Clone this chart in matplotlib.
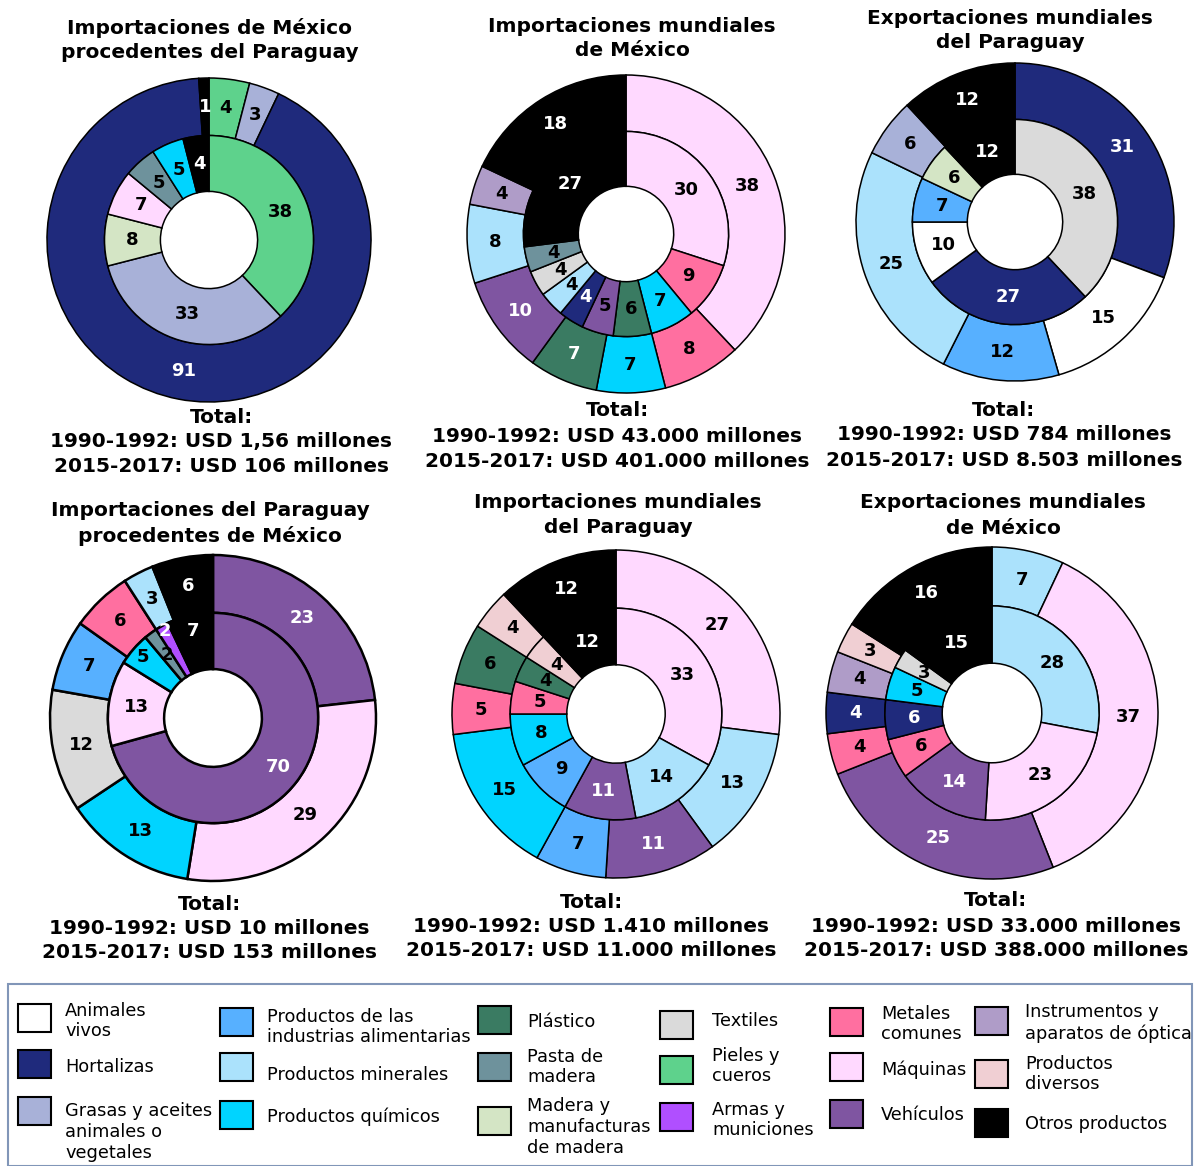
import matplotlib
matplotlib.use("Agg")
import matplotlib.pyplot as plt
from matplotlib.patches import Rectangle
import numpy as np

W, H, DPI = 1195, 1166, 100
plt.rcParams['font.family'] = ['DejaVu Sans']

# ---------------- data ----------------
categories = ["Animales", "Hortalizas", "Grasas", "Alimentarias", "Minerales", "Químicos",
              "Plástico", "Pasta", "Madera", "Textiles", "Pieles", "Armas", "Metales",
              "Máquinas", "Vehículos", "Instrumentos", "Diversos", "Otros"]
legend_labels = ["Animales\nvivos", "Hortalizas", "Grasas y aceites\nanimales o\nvegetales",
                 "Productos de las\nindustrias alimentarias", "Productos minerales",
                 "Productos químicos", "Plástico", "Pasta de\nmadera",
                 "Madera y\nmanufacturas\nde madera", "Textiles", "Pieles y\ncueros",
                 "Armas y\nmuniciones", "Metales\ncomunes", "Máquinas", "Vehículos",
                 "Instrumentos y\naparatos de óptica", "Productos\ndiversos", "Otros productos"]

c1_title = ["Importaciones de México", "procedentes del Paraguay"]
c1_inner_cats = ["Pieles", "Grasas", "Madera", "Máquinas", "Pasta", "Químicos", "Otros"]
c1_inner_vals = [38, 33, 8, 7, 5, 5, 4]
c1_outer_cats = ["Pieles", "Grasas", "Hortalizas", "Otros"]
c1_outer_vals = [4, 3, 91, 1]
c1_totals = ["Total:", "1990-1992: USD 1,56 millones", "2015-2017: USD 106 millones"]

c2_title = ["Importaciones mundiales", "de México"]
c2_inner_cats = ["Máquinas", "Metales", "Químicos", "Plástico", "Vehículos", "Hortalizas",
                 "Minerales", "Textiles", "Pasta", "Otros"]
c2_inner_vals = [30, 9, 7, 6, 5, 4, 4, 4, 4, 27]
c2_outer_cats = ["Máquinas", "Metales", "Químicos", "Plástico", "Vehículos", "Minerales",
                 "Instrumentos", "Otros"]
c2_outer_vals = [38, 8, 7, 7, 10, 8, 4, 18]
c2_totals = ["Total:", "1990-1992: USD 43.000 millones", "2015-2017: USD 401.000 millones"]

c3_title = ["Exportaciones mundiales", "del Paraguay"]
c3_inner_cats = ["Textiles", "Hortalizas", "Animales", "Alimentarias", "Madera", "Otros"]
c3_inner_vals = [38, 27, 10, 7, 6, 12]
c3_outer_cats = ["Hortalizas", "Animales", "Alimentarias", "Minerales", "Grasas", "Otros"]
c3_outer_vals = [31, 15, 12, 25, 6, 12]
c3_totals = ["Total:", "1990-1992: USD 784 millones", "2015-2017: USD 8.503 millones"]

c4_title = ["Importaciones del Paraguay", "procedentes de México"]
c4_inner_cats = ["Vehículos", "Máquinas", "Químicos", "Pasta", "Armas", "Otros"]
c4_inner_vals = [70, 13, 5, 2, 2, 7]
c4_outer_cats = ["Vehículos", "Máquinas", "Químicos", "Textiles", "Alimentarias", "Metales",
                 "Minerales", "Otros"]
c4_outer_vals = [23, 29, 13, 12, 7, 6, 3, 6]
c4_totals = ["Total:", "1990-1992: USD 10 millones", "2015-2017: USD 153 millones"]

c5_title = ["Importaciones mundiales", "del Paraguay"]
c5_inner_cats = ["Máquinas", "Minerales", "Vehículos", "Alimentarias", "Químicos", "Metales",
                 "Plástico", "Diversos", "Otros"]
c5_inner_vals = [33, 14, 11, 9, 8, 5, 4, 4, 12]
c5_outer_cats = ["Máquinas", "Minerales", "Vehículos", "Alimentarias", "Químicos", "Metales",
                 "Plástico", "Diversos", "Otros"]
c5_outer_vals = [27, 13, 11, 7, 15, 5, 6, 4, 12]
c5_totals = ["Total:", "1990-1992: USD 1.410 millones", "2015-2017: USD 11.000 millones"]

c6_title = ["Exportaciones mundiales", "de México"]
c6_inner_cats = ["Minerales", "Máquinas", "Vehículos", "Metales", "Hortalizas", "Químicos",
                 "Textiles", "Otros"]
c6_inner_vals = [28, 23, 14, 6, 6, 5, 3, 15]
c6_outer_cats = ["Minerales", "Máquinas", "Vehículos", "Metales", "Hortalizas", "Instrumentos",
                 "Diversos", "Otros"]
c6_outer_vals = [7, 37, 25, 4, 4, 4, 3, 16]
c6_totals = ["Total:", "1990-1992: USD 33.000 millones", "2015-2017: USD 388.000 millones"]

# ---------------- style ----------------
colors = {
    "Animales": "#FFFFFF", "Hortalizas": "#1F2A7C", "Grasas": "#A8B1D8",
    "Alimentarias": "#57B0FF", "Minerales": "#ABE2FC", "Químicos": "#00D4FF",
    "Plástico": "#3A7B62", "Pasta": "#6E929C", "Madera": "#D4E5C5", "Textiles": "#DADADA",
    "Pieles": "#5ED28C", "Armas": "#B04FFF", "Metales": "#FF6FA0", "Máquinas": "#FFD9FF",
    "Vehículos": "#7F55A1", "Instrumentos": "#AF9CC8", "Diversos": "#F0CFD3", "Otros": "#000000",
}
white_text = {"Hortalizas", "Vehículos", "Otros", "Armas"}

charts = [
    dict(title=c1_title, ic=c1_inner_cats, iv=c1_inner_vals, oc=c1_outer_cats, ov=c1_outer_vals,
         totals=c1_totals, center=(209, 240), R=162, tx=210, tys=(28, 53), sx=221,
         sys=(418, 441, 466), lw=1.1, over={}, rad={}),
    dict(title=c2_title, ic=c2_inner_cats, iv=c2_inner_vals, oc=c2_outer_cats, ov=c2_outer_vals,
         totals=c2_totals, center=(626, 234), R=159, tx=632, tys=(27, 51), sx=617,
         sys=(411, 436, 461), lw=1.1,
         over={("i", "Vehículos"): "black", ("o", "Plástico"): "white"}, rad={}),
    dict(title=c3_title, ic=c3_inner_cats, iv=c3_inner_vals, oc=c3_outer_cats, ov=c3_outer_vals,
         totals=c3_totals, center=(1015, 222), R=159, tx=1010, tys=(19, 43), sx=1004,
         sys=(410, 435, 460), lw=1.1, over={}, rad={}),
    dict(title=c4_title, ic=c4_inner_cats, iv=c4_inner_vals, oc=c4_outer_cats, ov=c4_outer_vals,
         totals=c4_totals, center=(213, 718), R=163, tx=210, tys=(511, 536), sx=209,
         sys=(905, 928, 953), lw=1.8, over={},
         rad={("i", "Químicos"): 0.57, ("i", "Pasta"): 0.48, ("i", "Armas"): 0.61,
              ("i", "Otros"): 0.55, ("i", "Vehículos"): 0.50}),
    dict(title=c5_title, ic=c5_inner_cats, iv=c5_inner_vals, oc=c5_outer_cats, ov=c5_outer_vals,
         totals=c5_totals, center=(616, 714), R=164, tx=618, tys=(502, 527), sx=591,
         sys=(902, 927, 951), lw=1.1, over={}, rad={}),
    dict(title=c6_title, ic=c6_inner_cats, iv=c6_inner_vals, oc=c6_outer_cats, ov=c6_outer_vals,
         totals=c6_totals, center=(992, 713), R=166, tx=1003, tys=(503, 528), sx=996,
         sys=(901, 926, 950), lw=1.1, over={}, rad={}),
]

HOLE = 0.30
INNER_R = 0.645
FS_LAB = 13
FS_TXT = 14.5

fig = plt.figure(figsize=(W / DPI, H / DPI), dpi=DPI)


def fx(x):
    return x / W


def fy(y):
    return 1 - y / H


pad = 1.03
for ch in charts:
    cx, cy = ch["center"]
    R = ch["R"] * pad
    ax = fig.add_axes([fx(cx - R), fy(cy + R), 2 * R / W, 2 * R / H])
    for ring, cats, vals, radius, wid in (("o", ch["oc"], ch["ov"], 1.0, 1.0 - INNER_R),
                                          ("i", ch["ic"], ch["iv"], INNER_R, INNER_R - HOLE)):
        wedges, _ = ax.pie(vals, colors=[colors[c] for c in cats], startangle=90,
                           counterclock=False, radius=radius,
                           wedgeprops=dict(width=wid, edgecolor="black", linewidth=ch["lw"]))
        for w, v, c in zip(wedges, vals, cats):
            th = np.deg2rad((w.theta1 + w.theta2) / 2)
            r = ch["rad"].get((ring, c), w.r - w.width / 2)
            col = "white" if c in white_text else "black"
            col = ch["over"].get((ring, c), col)
            ax.text(r * np.cos(th), r * np.sin(th), str(v), ha="center", va="center",
                    fontsize=FS_LAB, fontweight="bold", color=col)
    ax.set_xlim(-pad, pad)
    ax.set_ylim(-pad, pad)
    ax.set_aspect("equal")
    ax.axis("off")
    for line, y in zip(ch["title"], ch["tys"]):
        fig.text(fx(ch["tx"]), fy(y), line, ha="center", va="center", fontsize=FS_TXT,
                 fontweight="bold")
    for line, y in zip(ch["totals"], ch["sys"]):
        fig.text(fx(ch["sx"]), fy(y), line, ha="center", va="center", fontsize=FS_TXT,
                 fontweight="bold")

# ---------------- legend ----------------
fig.add_artist(Rectangle((fx(8), fy(1166)), (1192 - 8) / W, (1166 - 984) / H,
                         transform=fig.transFigure, facecolor="none", edgecolor="#8196B8",
                         linewidth=1.5))
col_sw_x = [18, 220, 478, 660, 830, 975]
col_tx_x = [65, 267, 527, 712, 881, 1025]
sw_tops = [[1004, 1050, 1097], [1008, 1053, 1101], [1006, 1053, 1107],
           [1011, 1056, 1103], [1008, 1053, 1100], [1007, 1060, 1109]]
tx_cy = [[1021, 1067, 1132], [1027, 1075, 1117], [1022, 1067, 1127],
         [1021, 1066, 1120], [1024, 1070, 1115], [1023, 1074, 1124]]
SW_W, SW_H = 33, 28
for k, (cat, lab) in enumerate(zip(categories, legend_labels)):
    col, row = divmod(k, 3)
    x0, y0 = col_sw_x[col], sw_tops[col][row]
    fig.add_artist(Rectangle((fx(x0), fy(y0 + SW_H)), SW_W / W, SW_H / H,
                             transform=fig.transFigure, facecolor=colors[cat],
                             edgecolor="black", linewidth=1.5))
    fig.text(fx(col_tx_x[col]), fy(tx_cy[col][row]), lab, ha="left", va="center",
             fontsize=12.8, linespacing=1.2)

fig.savefig("out.png", dpi=DPI)
